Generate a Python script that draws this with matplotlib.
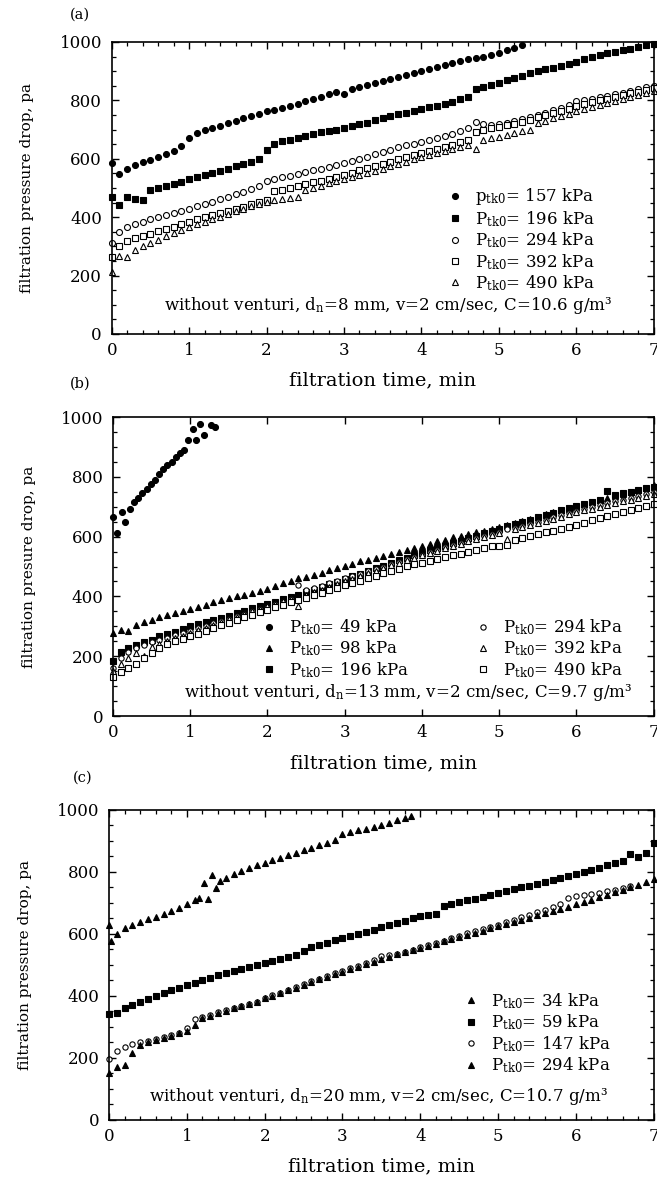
import numpy as np
import matplotlib
matplotlib.use("Agg")
import matplotlib.pyplot as plt
from matplotlib.ticker import MultipleLocator

plt.rcParams['font.family'] = ['DejaVu Serif']
plt.rcParams['mathtext.fontset'] = 'dejavuserif'

STEP = 0.1  # sampling interval of the recorded data, min

# ---------------- panel (a): d_n = 8 mm ----------------
a157 = [586, 548, 565, 578, 588, 596, 605, 615, 628, 645,
        672, 688, 697, 705, 713, 722, 730, 739, 747, 754,
        762, 768, 775, 782, 789, 797, 804, 812, 820, 828,
        822, 840, 846, 852, 858, 865, 872, 879, 887, 895,
        902, 908, 914, 920, 927, 935, 941, 946, 950, 956,
        963, 971, 980, 990]
a196 = [470, 440, 470, 462, 458, 492, 500, 508, 515, 522,
        530, 537, 545, 552, 559, 566, 574, 582, 590, 600,
        630, 650, 660, 665, 672, 678, 684, 690, 696, 700,
        705, 712, 718, 724, 731, 738, 745, 752, 758, 764,
        770, 776, 782, 789, 796, 803, 810, 838, 845, 852,
        860, 868, 876, 884, 892, 900, 906, 912, 918, 925,
        932, 940, 947, 954, 961, 966, 972, 977, 982, 988,
        994]
a294 = [312, 350, 366, 376, 385, 392, 399, 406, 413, 421,
        429, 437, 445, 453, 461, 470, 478, 487, 496, 505,
        524, 530, 536, 542, 548, 554, 560, 566, 572, 578,
        584, 591, 599, 607, 615, 623, 631, 639, 646, 652,
        658, 665, 672, 679, 686, 695, 705, 725, 718, 715,
        718, 722, 728, 735, 742, 750, 758, 766, 774, 785,
        798, 802, 806, 810, 815, 820, 826, 832, 838, 844,
        850]
a392 = [265, 300, 318, 328, 336, 344, 352, 360, 368, 377,
        385, 393, 400, 407, 414, 421, 428, 436, 444, 452,
        458, 488, 494, 500, 507, 513, 519, 525, 532, 538,
        545, 552, 560, 567, 575, 582, 590, 598, 606, 613,
        620, 627, 634, 641, 648, 656, 665, 690, 700, 704,
        708, 714, 720, 727, 734, 742, 750, 758, 765, 772,
        779, 786, 793, 800, 806, 812, 818, 824, 830, 836,
        842]
a490 = [212, 268, 265, 288, 300, 312, 323, 334, 345, 356,
        366, 375, 384, 393, 402, 411, 420, 428, 437, 446,
        453, 458, 462, 465, 470, 492, 500, 508, 516, 523,
        530, 537, 544, 551, 558, 566, 574, 582, 590, 598,
        606, 613, 620, 627, 634, 640, 646, 632, 665, 670,
        676, 682, 688, 694, 700, 722, 730, 738, 746, 754,
        762, 770, 777, 784, 791, 798, 805, 812, 818, 825,
        832]

# ---------------- panel (b): d_n = 13 mm ----------------
t_b49 = [0.0, 0.05, 0.11, 0.16, 0.22, 0.27, 0.33, 0.38, 0.44, 0.49, 0.54, 0.6, 0.65,
         0.7, 0.76, 0.81, 0.87, 0.92, 0.97, 1.03, 1.07, 1.12, 1.18, 1.27, 1.32]
b49 = [667, 611, 683, 650, 694, 717, 730, 745, 760, 775, 789, 811, 825,
       838, 850, 867, 880, 891, 922, 961, 922, 978, 939, 972, 967]
b98 = [278, 287, 284, 305, 314, 322, 330, 337, 345, 352,
       359, 366, 373, 380, 387, 394, 400, 406, 412, 418,
       424, 436, 446, 453, 460, 466, 472, 480, 488, 496,
       503, 510, 517, 523, 529, 535, 541, 548, 555, 562,
       570, 577, 584, 590, 598, 603, 609, 615, 620, 626,
       632, 639, 646, 653, 660, 667, 674, 681, 688, 694,
       700, 708, 716, 722, 728, 735, 742, 750, 757, 764,
       772]
b196 = [183, 215, 228, 238, 246, 255, 268, 276, 282, 290,
        302, 308, 314, 320, 328, 336, 344, 352, 360, 368,
        376, 383, 390, 398, 406, 414, 422, 431, 440, 449,
        458, 467, 476, 485, 494, 503, 512, 521, 530, 538,
        546, 554, 562, 570, 578, 587, 595, 603, 611, 619,
        627, 634, 641, 648, 656, 664, 672, 680, 688, 696,
        704, 710, 716, 722, 752, 740, 745, 750, 756, 761,
        766]
b294 = [160, 195, 215, 228, 238, 246, 254, 262, 270, 278,
        286, 294, 302, 310, 318, 326, 334, 342, 350, 358,
        366, 374, 382, 392, 438, 420, 428, 436, 444, 452,
        460, 468, 476, 484, 492, 500, 508, 516, 524, 532,
        540, 548, 556, 564, 572, 580, 588, 596, 603, 610,
        617, 624, 630, 636, 643, 650, 657, 664, 671, 678,
        685, 692, 699, 705, 712, 718, 724, 730, 736, 742,
        748]
b392 = [150, 175, 195, 210, 200, 232, 242, 251, 260, 269,
        278, 287, 296, 305, 314, 323, 332, 341, 350, 359,
        368, 376, 384, 392, 368, 405, 414, 423, 432, 441,
        450, 459, 468, 477, 486, 495, 504, 513, 521, 529,
        537, 545, 553, 561, 569, 577, 585, 592, 599, 606,
        612, 592, 625, 632, 639, 646, 653, 660, 667, 674,
        681, 688, 694, 700, 706, 712, 718, 724, 730, 736,
        742]
b490 = [130, 148, 160, 175, 195, 212, 228, 240, 250, 259,
        267, 276, 285, 294, 303, 312, 321, 330, 339, 348,
        356, 364, 372, 380, 388, 396, 404, 412, 420, 428,
        437, 445, 453, 461, 469, 477, 485, 493, 501, 507,
        513, 519, 525, 531, 537, 543, 549, 555, 561, 568,
        570, 572, 590, 596, 602, 608, 614, 620, 626, 632,
        640, 647, 654, 661, 668, 675, 682, 689, 696, 703,
        710]

# ---------------- panel (c): d_n = 20 mm ----------------
t_c34 = [0.0, 0.03, 0.1, 0.2, 0.3, 0.4, 0.5, 0.6, 0.7, 0.8, 0.9, 1.0, 1.1,
         1.16, 1.22, 1.27, 1.32, 1.37, 1.42, 1.5, 1.6, 1.7, 1.8, 1.9, 2.0,
         2.1, 2.2, 2.3, 2.4, 2.5, 2.6, 2.7, 2.8, 2.9, 3.0, 3.1, 3.2, 3.3,
         3.4, 3.5, 3.6, 3.7, 3.8, 3.88]
c34 = [628, 578, 600, 618, 630, 640, 648, 656, 664, 674, 684, 695, 708,
       716, 765, 712, 790, 748, 772, 782, 792, 802, 812, 822, 830,
       838, 846, 854, 862, 870, 878, 886, 894, 902, 922, 928, 934, 940,
       946, 952, 959, 966, 973, 980]
c59 = [342, 345, 360, 372, 382, 391, 400, 410, 419, 427,
       435, 443, 451, 459, 466, 473, 480, 486, 493, 500,
       507, 513, 519, 526, 532, 545, 557, 564, 572, 579,
       586, 593, 600, 607, 614, 621, 628, 635, 643, 650,
       657, 660, 663, 690, 698, 703, 708, 714, 720, 726,
       732, 738, 744, 750, 756, 762, 768, 774, 780, 786,
       793, 800, 807, 814, 821, 828, 835, 858, 848, 862,
       893]
c147 = [198, 222, 236, 244, 250, 256, 262, 268, 275, 282,
        298, 325, 332, 340, 347, 354, 361, 368, 375, 382,
        394, 402, 411, 420, 429, 438, 447, 456, 465, 474,
        482, 490, 498, 506, 516, 530, 532, 534, 542, 549,
        557, 563, 570, 578, 586, 594, 602, 609, 616, 623,
        630, 638, 646, 654, 662, 670, 678, 686, 696, 715,
        722, 726, 729, 733, 737, 742, 748, 755]
c294 = [150, 172, 178, 215, 242, 250, 257, 264, 271, 279,
        287, 305, 328, 336, 344, 352, 360, 367, 374, 381,
        392, 400, 409, 418, 427, 436, 445, 454, 462, 470,
        478, 486, 494, 502, 510, 518, 526, 534, 541, 548,
        555, 562, 569, 576, 583, 590, 597, 604, 611, 618,
        625, 632, 639, 646, 653, 660, 667, 674, 681, 688,
        695, 702, 710, 718, 726, 734, 742, 750, 759, 768,
        777]


def times(vals):
    return np.arange(len(vals)) * STEP


def lab(p, kpa):
    return p + r'$_{\mathrm{tk0}}$= ' + kpa + ' kPa'


FILLED = dict(mfc='k', mec='k')
OPEN = dict(mfc='white', mec='k')
MS = 4.3


def series(ax, t, v, marker, style, label, ms=MS):
    h, = ax.plot(t, v, ls='none', marker=marker, ms=ms, mew=0.8,
                 label=label, clip_on=False, **style)
    return h


def style_axes(ax, xminor=True):
    ax.set_xlim(0, 7)
    ax.set_ylim(0, 1000)
    ax.xaxis.set_major_locator(MultipleLocator(1))
    ax.yaxis.set_major_locator(MultipleLocator(200))
    ax.yaxis.set_minor_locator(MultipleLocator(50))
    if xminor:
        ax.xaxis.set_minor_locator(MultipleLocator(0.2))
    ax.tick_params(which='both', direction='in', top=True, right=True,
                   labelsize=12)
    ax.tick_params(which='major', length=5, width=1.0)
    ax.tick_params(which='minor', length=2.8, width=0.9)
    ax.tick_params(axis='y', pad=7)
    ax.tick_params(axis='x', pad=6)
    for s in ax.spines.values():
        s.set_linewidth(1.2)
    ax.set_xlabel('filtration time, min', fontsize=14, labelpad=9)


def put_legend(ax, handles, x, y):
    leg = ax.legend(handles=handles, loc='upper left', bbox_to_anchor=(x, y),
                    frameon=False, fontsize=12, borderpad=0, borderaxespad=0,
                    handlelength=0.8, handletextpad=0.8, labelspacing=0.1,
                    markerscale=1.0)
    return leg


fig = plt.figure(figsize=(6.57, 11.81), dpi=100)

# ----- (a)
ax = fig.add_axes([0.170, 0.7172, 0.825, 0.2473])
h = [series(ax, times(a157), a157, 'o', FILLED, lab('p', '157')),
     series(ax, times(a196), a196, 's', FILLED, lab('P', '196'), ms=3.8),
     series(ax, times(a294), a294, 'o', OPEN, lab('P', '294')),
     series(ax, times(a392), a392, 's', OPEN, lab('P', '392'), ms=3.8),
     series(ax, times(a490), a490, '^', OPEN, lab('P', '490'))]
style_axes(ax)
ax.set_ylabel('filtration pressure drop, pa', fontsize=11, labelpad=18)
put_legend(ax, h, 0.622, 0.505)
ax.text(0.51, 0.097, r'without venturi, d$_{\mathrm{n}}$=8 mm, v=2 cm/sec, C=10.6 g/m³',
        transform=ax.transAxes, ha='center', va='center', fontsize=12)
fig.text(80 / 657, 1 - 15 / 1181, '(a)', fontsize=10.5, ha='center', va='center')

# ----- (b)
ax = fig.add_axes([0.172, 0.3937, 0.823, 0.2532])
h1 = [series(ax, t_b49, b49, 'o', FILLED, lab('P', '49')),
      series(ax, times(b98), b98, '^', FILLED, lab('P', '98')),
      series(ax, times(b196), b196, 's', FILLED, lab('P', '196'), ms=3.8)]
h2 = [series(ax, times(b294), b294, 'o', OPEN, lab('P', '294'), ms=3.8),
      series(ax, times(b392), b392, '^', OPEN, lab('P', '392')),
      series(ax, times(b490), b490, 's', OPEN, lab('P', '490'), ms=4.6)]
style_axes(ax, xminor=False)
ax.set_ylabel('filtration presure drop, pa', fontsize=11, labelpad=18)
leg1 = put_legend(ax, h1, 0.277, 0.33)
ax.add_artist(leg1)
put_legend(ax, h2, 0.672, 0.33)
ax.text(0.545, 0.078, r'without venturi, d$_{\mathrm{n}}$=13 mm, v=2 cm/sec, C=9.7 g/m³',
        transform=ax.transAxes, ha='center', va='center', fontsize=12)
fig.text(80 / 657, 1 - 384 / 1181, '(b)', fontsize=10.5, ha='center', va='center')

# ----- (c)
ax = fig.add_axes([0.166, 0.0517, 0.829, 0.2625])
h = [series(ax, t_c34, c34, '^', FILLED, lab('P', '34')),
     series(ax, times(c59), c59, 's', FILLED, lab('P', '59'), ms=3.8),
     series(ax, times(c147), c147, 'o', OPEN, lab('P', '147'), ms=3.8),
     series(ax, times(c294), c294, '^', FILLED, lab('P', '294'))]
style_axes(ax)
ax.set_ylabel('filtration pressure drop, pa', fontsize=11, labelpad=18)
put_legend(ax, h, 0.652, 0.415)
ax.text(0.495, 0.075, r'without venturi, d$_{\mathrm{n}}$=20 mm, v=2 cm/sec, C=10.7 g/m³',
        transform=ax.transAxes, ha='center', va='center', fontsize=12)
fig.text(83 / 657, 1 - 778 / 1181, '(c)', fontsize=10.5, ha='center', va='center')

fig.savefig('out.png', dpi=100)
